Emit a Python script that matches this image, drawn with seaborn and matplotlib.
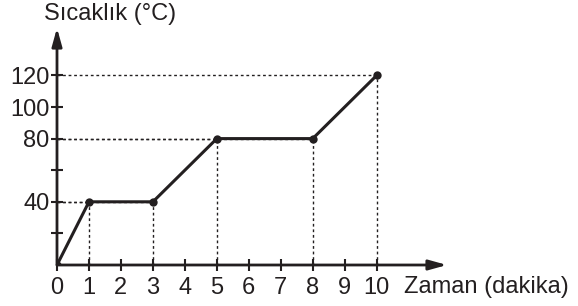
import matplotlib
matplotlib.use("Agg")
import matplotlib.pyplot as plt
import seaborn as sns
import pandas as pd

# heating curve data
time_min = [0, 1, 3, 5, 8, 10]
temp_c = [0, 40, 40, 80, 80, 120]

x_ticks = [0, 1, 2, 3, 4, 5, 6, 7, 8, 9, 10]
y_ticks = [20, 40, 60, 80, 100, 120]
y_tick_labels = ["", "40", "", "80", "100", "120"]

# points that get dotted guide lines to the axes
guide_x = [1, 3, 5, 8, 10]
guide_y = [40, 40, 80, 80, 120]

ink = "#231f20"
fs = 17

sns.set_theme(style="white")
plt.rcParams['font.family'] = ['Liberation Sans', 'DejaVu Sans']

df = pd.DataFrame({"time": time_min, "temp": temp_c})

fig = plt.figure(figsize=(5.78, 3.06), dpi=100)
ax = fig.add_axes([57 / 578, 41 / 306, 390 / 578, 237 / 306])

# dotted guides
for gx, gy in zip(guide_x, guide_y):
    ax.plot([gx, gx], [0, gy], color=ink, lw=1, linestyle=(0, (2, 2)), zorder=1)
    ax.plot([0, gx], [gy, gy], color=ink, lw=1, linestyle=(0, (2, 2)), zorder=1)

sns.lineplot(data=df, x="time", y="temp", ax=ax, color=ink, lw=2.2,
             marker="o", markersize=6, markeredgewidth=0, sort=False, zorder=3)

ax.set_xlim(0, 12.2)
ax.set_ylim(0, 150)

for s in ["top", "right", "left", "bottom"]:
    ax.spines[s].set_visible(False)

# axes with arrow heads
arrow = dict(arrowstyle="-|>,head_length=0.9,head_width=0.25",
             color=ink, lw=2, shrinkA=0, shrinkB=0)
ax.annotate("", xy=(1, 0), xytext=(0, 0), xycoords="axes fraction", arrowprops=arrow)
ax.annotate("", xy=(0, 1), xytext=(0, 0), xycoords="axes fraction", arrowprops=arrow)

ax.set_xticks(x_ticks)
ax.set_yticks(y_ticks)
ax.set_yticklabels(y_tick_labels)
ax.tick_params(axis="both", bottom=True, left=True, direction="inout",
               length=9, width=1.5, color=ink, labelcolor=ink, labelsize=fs)
ax.tick_params(axis="x", pad=4)
ax.tick_params(axis="y", pad=1)

ax.set_xlabel("")
ax.set_ylabel("")

fig.text(404 / 578, 1 - 287 / 306, "Zaman (dakika)", fontsize=fs,
         color=ink, ha="left", va="center")
fig.text(110 / 578, 1 - 14 / 306, "Sıcaklık (°C)", fontsize=fs,
         color=ink, ha="center", va="center")

fig.savefig("out.png", dpi=100)
